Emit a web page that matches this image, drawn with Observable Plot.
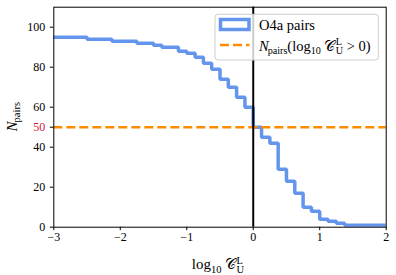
<!DOCTYPE html>
<html><head><meta charset="utf-8">
<script src="https://cdn.jsdelivr.net/npm/d3@7"></script>
<script src="https://cdn.jsdelivr.net/npm/@observablehq/plot@0.6"></script>
<style>
html,body{margin:0;padding:0;background:#fff;overflow:hidden}
#chart svg{display:block;}
</style></head><body><div id="chart"></div>
<script>
// step edges (log10 C) where the cumulative count changes, plus the right end
const binEdges = [-3, -2.5, -2.125, -1.75, -1.5, -1.375, -1.125, -1.0, -0.875, -0.75, -0.625, -0.5, -0.375, -0.25, -0.125,
                  0, 0.125, 0.25, 0.375, 0.5, 0.625, 0.75, 0.875, 1.0, 1.125, 1.25, 1.375, 2];
// number of pairs in each step
const counts = [95, 94, 93, 92, 91, 90, 88, 87, 85, 82, 79, 74, 70, 65, 60,
                50, 45, 42, 29, 23, 17, 10, 8, 4, 3, 2, 1];
const xTicks = [-3, -2, -1, 0, 1, 2];
const yTicks = [0, 20, 40, 60, 80, 100];
const thresholdCount = [50];
const vline = [0];
const seriesLabel = "O4a pairs";

const data = binEdges.map((x, i) => ({x, n: counts[Math.min(i, counts.length - 1)]}));

const FONT = "'Liberation Serif', 'Times New Roman', serif";
const BLUE = "#6495ED", ORANGE = "#FF8C00";

const plot = Plot.plot({
  width: 396, height: 275,
  marginLeft: 53.3, marginRight: 10.3, marginTop: 6.7, marginBottom: 48.3,
  style: {fontFamily: FONT, fontSize: "12px", color: "black", background: "white", overflow: "visible"},
  x: {domain: [-3, 2], label: null},
  y: {domain: [0, 110], label: null},
  marks: [
    Plot.line(data, {x: "x", y: "n", curve: "step-after", stroke: BLUE, strokeWidth: 3.5, strokeLinejoin: "miter", clip: true}),
    Plot.ruleY(thresholdCount, {stroke: ORANGE, strokeWidth: 2.5, strokeDasharray: "9,4"}),
    Plot.ruleX(vline, {stroke: "black", strokeWidth: 2}),
    Plot.axisX(xTicks, {tickSize: 3.5, tickPadding: 2, label: null, fontSize: 12}),
    Plot.axisY(yTicks, {tickSize: 3.5, tickPadding: 5, label: null, fontSize: 12}),
    Plot.axisY(thresholdCount, {tickSize: 3.5, tickPadding: 5, label: null, fill: "crimson", stroke: "black", fontSize: 12}),
    Plot.frame({stroke: "black", strokeWidth: 1})
  ]
});
document.getElementById("chart").append(plot);

const svg = d3.select(plot);
const CAL_C = "\u{1D49E}";

// one <text>, tspans flowing naturally; sub/superscripts via dy, stacked via measured dx
function mathLabel(parts, {x, y, size, anchor = "start", rotate = 0}) {
  const t = svg.append("text")
    .attr("transform", `translate(${x},${y}) rotate(${rotate})`)
    .attr("text-anchor", anchor)
    .style("font-family", FONT).style("font-size", size + "px").style("white-space", "pre").attr("fill", "black");
  const fs = size * 0.7, up = size * 0.36, down = size * 0.24;
  let shift = 0, pendingDx = 0;
  const add = (txt, targetShift, small, it, dx) => {
    const s = t.append("tspan").attr("dy", targetShift - shift).text(txt)
      .style("font-style", it ? "italic" : "normal");
    if (small) s.style("font-size", fs + "px");
    const d = (dx || 0) + pendingDx;
    if (d) s.attr("dx", d);
    pendingDx = 0;
    shift = targetShift;
    return s.node();
  };
  for (const p of parts) {
    if (p.sub != null && p.sup != null) {
      const a = add(p.sup, -up, true, p.it, 1);
      const wa = a.getComputedTextLength();
      const b = add(p.sub, down, true, p.it, -wa);
      const wb = b.getComputedTextLength();
      if (wa > wb) pendingDx = wa - wb;
    } else if (p.sub != null) {
      add(p.sub, down, true, p.it, p.dx);
    } else if (p.sup != null) {
      add(p.sup, -up, true, p.it, p.dx);
    } else {
      add(p.t, 0, false, p.it, p.dx);
    }
  }
  return t;
}

// axis labels
mathLabel([{t: "N", it: true}, {sub: "pairs", dx: -1}], {x: 16.5, y: 116.7, size: 15, anchor: "middle", rotate: -90});
mathLabel([{t: "log"}, {sub: "10"}, {t: "\u2009"}, {t: CAL_C}, {sup: "L", sub: "U"}], {x: 218, y: 269, size: 15, anchor: "middle"});

// legend
const lg = svg.append("g");
lg.append("rect").attr("x", 215).attr("y", 14.3).attr("width", 163.3).attr("height", 45.7).attr("rx", 3)
  .attr("fill", "white").attr("fill-opacity", 0.8).attr("stroke", "#cccccc").attr("stroke-width", 1);
lg.append("rect").attr("x", 220.5).attr("y", 19.5).attr("width", 28.5).attr("height", 10)
  .attr("fill", "none").attr("stroke", BLUE).attr("stroke-width", 3.5);
lg.append("line").attr("x1", 220).attr("x2", 249.5).attr("y1", 45).attr("y2", 45)
  .attr("stroke", ORANGE).attr("stroke-width", 2.5).attr("stroke-dasharray", "9,4");
mathLabel([{t: seriesLabel}], {x: 259, y: 30, size: 14.5});
mathLabel([{t: "N", it: true}, {sub: "pairs", dx: -1}, {t: "(log"}, {sub: "10"}, {t: "\u2009"}, {t: CAL_C}, {sup: "L", sub: "U"}, {t: "\u2005>\u20050)"}],
  {x: 259, y: 50.5, size: 14.5});
</script></body></html>
